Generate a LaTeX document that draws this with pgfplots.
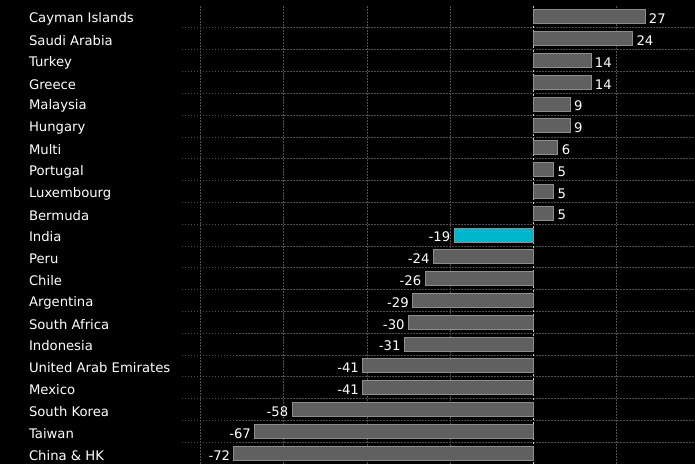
\documentclass[border=0pt]{standalone}
\usepackage{pgfplots}
\pgfplotsset{compat=1.18}
\usepackage{fontspec}
\setmainfont{DejaVu Sans}
\definecolor{barfill}{HTML}{606060}
\definecolor{baredge}{HTML}{8E8E8E}
\definecolor{hl}{HTML}{00B6CC}
\definecolor{gridc}{HTML}{505050}
\begin{document}
\begin{tikzpicture}[x=1pt,y=1pt]
\fill[black] (-182,0) rectangle (513,464);
\begin{axis}[
  at={(0,0)}, anchor=south west,
  scale only axis, width=513pt, height=458pt,
  xmin=-84.5, xmax=39,
  ymin=-0.5, ymax=20.5, y dir=reverse,
  xbar, bar width=14pt, bar shift=0pt,
  axis line style={draw=none},
  tick style={draw=none},
  major tick length=0pt,
  xtick={-80,-60,-40,-20,20}, xticklabels={},
  xmajorgrids,
  grid style={gridc, dash pattern=on 1.5pt off 1.5pt, line width=0.7pt},
  extra x ticks={0}, extra x tick labels={},
  extra x tick style={grid style={white!80!black, dash pattern=on 2pt off 2pt, line width=0.8pt}},
  ytick={0,...,20},
  minor ytick={0.5,1.5,...,19.5},
  yminorgrids,
  minor grid style={gridc, dash pattern=on 1.5pt off 1.5pt, line width=0.7pt},
  yticklabels={Cayman Islands,Saudi Arabia,Turkey,Greece,Malaysia,Hungary,Multi,Portugal,Luxembourg,Bermuda,India,Peru,Chile,Argentina,South Africa,Indonesia,United Arab Emirates,Mexico,South Korea,Taiwan,China \& HK},
  yticklabel style={anchor=west, xshift=-156.5pt, yshift=-2pt, text=white, font=\fontsize{13.2}{16}\selectfont},
  /pgf/number format/assume math mode=true,
  nodes near coords,
  nodes near coords align=horizontal,
  every node near coord/.append style={text=white, font=\fontsize{13.2}{16}\selectfont, yshift=-2pt},
  point meta=x,
  clip=false,
]
\addplot[fill=barfill, draw=baredge, line width=1pt] coordinates {
(27,0) (24,1) (14,2) (14,3) (9,4) (9,5) (6,6) (5,7) (5,8) (5,9)
(-24,11) (-26,12) (-29,13) (-30,14) (-31,15) (-41,16) (-41,17) (-58,18) (-67,19) (-72,20)};
\addplot[fill=hl, draw=baredge, line width=1pt] coordinates {(-19,10)};
\end{axis}
\pgfresetboundingbox
\useasboundingbox (-182,0) rectangle (513,464);
\end{tikzpicture}
\end{document}
